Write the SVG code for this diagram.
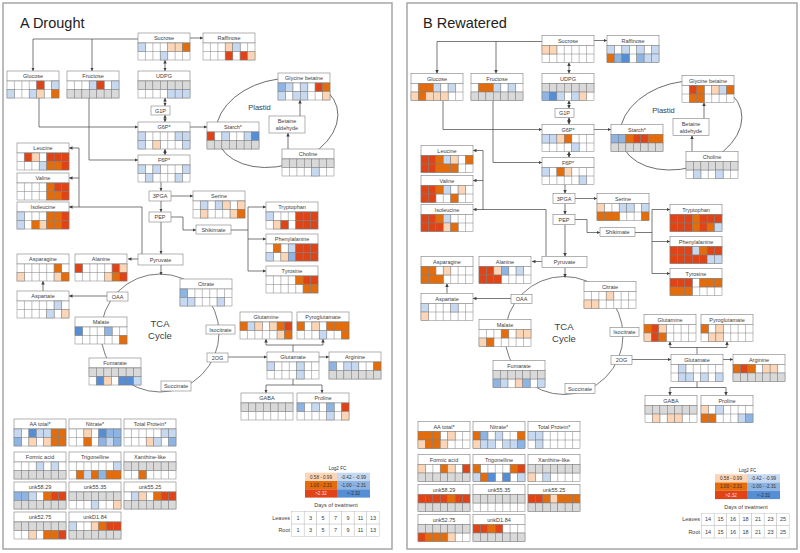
<svg xmlns="http://www.w3.org/2000/svg" xmlns:xlink="http://www.w3.org/1999/xlink" width="800" height="553" viewBox="0 0 800 553">
<defs>
<style>
text{font-family:"Liberation Sans",Arial,sans-serif;fill:#404040}
.t{font-size:5.5px;text-anchor:middle}
.tb{fill:#fff;stroke:#7f7f7f;stroke-width:.6}
.cl{stroke:#7f7f7f;stroke-width:.5}
.w{fill:#fff}.g{fill:#d9d9d9}.a{fill:#fbd5b5}.b{fill:#e46c0a}.c{fill:#df4316}.x{fill:#c6d9f1}.y{fill:#8db4e2}.z{fill:#558ed5}
.cn{fill:none;stroke:#404040;stroke-width:.7}
.ar{marker-end:url(#ah)}
.da{marker-start:url(#ah);marker-end:url(#ah)}
.frame{fill:#fff;stroke:#a6a6a6;stroke-width:1.5}
.ttl{font-size:14.5px;fill:#222}
.lg{font-size:4.6px;text-anchor:middle;fill:#333}
.tc{fill:#fff;stroke:#bfbfbf;stroke-width:.5}
</style>
<marker id="ah" viewBox="0 0 6 6" refX="6" refY="3" markerWidth="3.5" markerHeight="3.5" markerUnits="userSpaceOnUse" orient="auto-start-reverse"><path d="M0 0L6 3L0 6z" fill="#404040"/></marker>
<rect id="w" class="cl w" width="7.43" height="8.5"/>
<rect id="g" class="cl g" width="7.43" height="8.5"/>
<rect id="a" class="cl a" width="7.43" height="8.5"/>
<rect id="b" class="cl b" width="7.43" height="8.5"/>
<rect id="c" class="cl c" width="7.43" height="8.5"/>
<rect id="x" class="cl x" width="7.43" height="8.5"/>
<rect id="y" class="cl y" width="7.43" height="8.5"/>
<rect id="z" class="cl z" width="7.43" height="8.5"/>
<g id="gr"><use href="#g"/><use href="#g" x="7.43"/><use href="#g" x="14.86"/><use href="#g" x="22.29"/><use href="#g" x="29.71"/><use href="#g" x="37.14"/><use href="#g" x="44.57"/></g>
<g id="nd"><rect class="tb" width="52" height="10"/><rect class="cl w" y="10" width="52" height="17"/><path class="cl" fill="none" d="M7.43 10V27M14.86 10V27M22.29 10V27M29.71 10V27M37.14 10V27M44.57 10V27M0 18.5H52"/></g>
</defs>
<rect width="800" height="553" fill="#fff"/>
<rect class="frame" x="3" y="3" width="389" height="546"/>
<rect class="frame" x="407" y="3" width="390" height="546"/>
<text class="ttl" x="20" y="28">A Drought</text>
<text class="ttl" x="423" y="28">B Rewatered</text>

<g id="connectors-A" class="cn">
<ellipse cx="277" cy="123" rx="62" ry="43" transform="rotate(-15 277 123)"/>
<circle cx="160" cy="333" r="59"/>
<path class="ar" d="M138 39H33V71"/>
<path class="ar" d="M92 39V71"/>
<path class="ar" d="M190 38H203"/>
<path class="da" d="M165 60V71"/>
<path class="da" d="M165 98V106"/>
<path class="da" d="M165 115V122"/>
<path class="da" d="M165 149V155"/>
<path class="ar" d="M39 98V127H138"/>
<path class="ar" d="M89 98V160H138"/>
<path class="ar" d="M190 127H207"/>
<path class="ar" d="M161 182V191"/>
<path class="ar" d="M161 201V212"/>
<path class="ar" d="M161 222V254"/>
<path class="ar" d="M171 196H193"/>
<path class="ar" d="M171 217H183V230H196"/>
<path d="M231 230H248M248 207V271"/>
<path class="ar" d="M248 207H266"/>
<path class="ar" d="M248 239H266"/>
<path class="ar" d="M248 271H266"/>
<path class="ar" d="M138 259H128"/>
<path class="ar" d="M142 254V207H69"/>
<path d="M79 207V148"/>
<path class="ar" d="M79 178H69"/>
<path class="ar" d="M79 148H69"/>
<path class="ar" d="M161 265V275"/>
<path class="ar" d="M107 296H69"/>
<path class="ar" d="M43 291V281"/>
<path class="ar" d="M228 357H267"/>
<path class="ar" d="M318 357H329"/>
<path d="M293 352V345M266 345H323"/>
<path class="ar" d="M266 345V339"/>
<path class="ar" d="M323 345V339"/>
<path d="M293 379V385M266 385H322"/>
<path class="ar" d="M266 385V393"/>
<path class="ar" d="M322 385V393"/>
<path class="ar" d="M288 149V133"/>
<path class="ar" d="M300 116V100"/>
</g>
<use id="connectors-B" href="#connectors-A" x="404" y="2.5"/>

<g id="panel-A">
<text x="259.5" y="110" style="font-size:7.5px;text-anchor:middle">Plastid</text>
<text x="160" y="327" style="font-size:9.5px;text-anchor:middle">TCA</text>
<text x="160" y="339" style="font-size:9.5px;text-anchor:middle">Cycle</text>
<g id="A-g1p"><rect class="tb" x="151" y="106" width="19" height="9"/><text class="t" x="160.5" y="112.5">G1P</text></g>
<g id="A-3pga"><rect class="tb" x="149" y="191" width="22" height="10"/><text class="t" x="160" y="198">3PGA</text></g>
<g id="A-pep"><rect class="tb" x="149" y="212" width="22" height="10"/><text class="t" x="160" y="219">PEP</text></g>
<g id="A-shikimate"><rect class="tb" x="196" y="225" width="35" height="9"/><text class="t" x="213.5" y="231.5">Shikimate</text></g>
<g id="A-pyruvate"><rect class="tb" x="138" y="254" width="45" height="11"/><text class="t" x="160.5" y="261.5">Pyruvate</text></g>
<g id="A-oaa"><rect class="tb" x="107" y="292" width="21" height="9"/><text class="t" x="117.5" y="298.5">OAA</text></g>
<g id="A-isocitrate"><rect class="tb" x="206" y="325" width="29" height="9"/><text class="t" x="220.5" y="331.5">Isocitrate</text></g>
<g id="A-2og"><rect class="tb" x="207" y="353" width="21" height="9"/><text class="t" x="217.5" y="359.5">2OG</text></g>
<g id="A-succinate"><rect class="tb" x="161" y="381" width="30" height="10"/><text class="t" x="176" y="388">Succinate</text></g>
<g id="A-betaine-aldehyde"><rect class="tb" x="269" y="116" width="36" height="17"/><text class="t" x="287" y="123">Betaine</text><text class="t" x="287" y="130">aldehyde</text></g>

<g id="A-sucrose" transform="translate(138,33)"><use href="#nd"/><text class="t" x="26" y="7.3">Sucrose</text><use href="#x" y="10"/><use href="#a" x="29.71" y="10"/><use href="#a" x="37.14" y="10"/><use href="#b" x="44.57" y="10"/><use href="#x" x="22.29" y="18.5"/></g>
<g id="A-raffinose" transform="translate(203,33)"><use href="#nd"/><text class="t" x="26" y="7.3">Raffinose</text><use href="#a" x="22.29" y="10"/><use href="#x" x="29.71" y="10"/><use href="#c" x="22.29" y="18.5"/><use href="#c" x="37.14" y="18.5"/><use href="#a" x="44.57" y="18.5"/></g>
<g id="A-glucose" transform="translate(7,71)"><use href="#nd"/><text class="t" x="26" y="7.3">Glucose</text><use href="#c" x="29.71" y="10"/><use href="#x" x="44.57" y="10"/><use href="#x" y="18.5"/><use href="#x" x="22.29" y="18.5"/><use href="#a" x="29.71" y="18.5"/><use href="#b" x="44.57" y="18.5"/></g>
<g id="A-fructose" transform="translate(67,71)"><use href="#nd"/><text class="t" x="26" y="7.3">Fructose</text><use href="#x" x="22.29" y="10"/><use href="#c" x="29.71" y="10"/><use href="#x" x="44.57" y="10"/><use href="#gr" y="18.5"/></g>
<g id="A-udpg" transform="translate(138,71)"><use href="#nd"/><text class="t" x="26" y="7.3">UDPG</text><use href="#gr" y="10"/><use href="#x" x="29.71" y="18.5"/><use href="#x" x="37.14" y="18.5"/><use href="#x" x="44.57" y="18.5"/></g>
<g id="A-g6p" transform="translate(138,122)"><use href="#nd"/><text class="t" x="26" y="7.3">G6P*</text><use href="#x" y="10"/><use href="#x" x="37.14" y="10"/><use href="#x" x="44.57" y="10"/><use href="#x" y="18.5"/><use href="#a" x="14.86" y="18.5"/><use href="#x" x="44.57" y="18.5"/></g>
<g id="A-starch" transform="translate(207,122)"><use href="#nd"/><text class="t" x="26" y="7.3">Starch*</text><use href="#c" y="10"/><use href="#x" x="14.86" y="10"/><use href="#x" x="37.14" y="10"/><use href="#z" x="44.57" y="10"/><use href="#gr" y="18.5"/></g>
<g id="A-glycine-betaine" transform="translate(278,73)"><use href="#nd"/><text class="t" x="26" y="7.3">Glycine betaine</text><use href="#y" y="10"/><use href="#x" x="7.43" y="10"/><use href="#x" x="22.29" y="10"/><use href="#c" x="37.14" y="10"/><use href="#b" x="44.57" y="10"/><use href="#x" y="18.5"/><use href="#x" x="14.86" y="18.5"/><use href="#x" x="22.29" y="18.5"/><use href="#a" x="44.57" y="18.5"/></g>
<g id="A-choline" transform="translate(282,149)"><use href="#nd"/><text class="t" x="26" y="7.3">Choline</text><use href="#gr" y="10"/><use href="#x" x="29.71" y="18.5"/></g>
<g id="A-leucine" transform="translate(17,143)"><use href="#nd"/><text class="t" x="26" y="7.3">Leucine</text><use href="#c" x="7.43" y="10"/><use href="#a" x="14.86" y="10"/><use href="#c" x="29.71" y="10"/><use href="#c" x="37.14" y="10"/><use href="#c" x="44.57" y="10"/><use href="#x" x="22.29" y="18.5"/><use href="#b" x="29.71" y="18.5"/><use href="#b" x="37.14" y="18.5"/><use href="#c" x="44.57" y="18.5"/></g>
<g id="A-f6p" transform="translate(138,155)"><use href="#nd"/><text class="t" x="26" y="7.3">F6P*</text><use href="#x" y="10"/><use href="#x" x="14.86" y="10"/><use href="#x" x="44.57" y="10"/><use href="#x" x="7.43" y="18.5"/><use href="#x" x="37.14" y="18.5"/></g>
<g id="A-valine" transform="translate(17,173)"><use href="#nd"/><text class="t" x="26" y="7.3">Valine</text><use href="#b" x="29.71" y="10"/><use href="#c" x="37.14" y="10"/><use href="#c" x="44.57" y="10"/><use href="#b" x="29.71" y="18.5"/><use href="#b" x="37.14" y="18.5"/><use href="#c" x="44.57" y="18.5"/></g>
<g id="A-isoleucine" transform="translate(17,202)"><use href="#nd"/><text class="t" x="26" y="7.3">Isoleucine</text><use href="#x" y="10"/><use href="#b" x="29.71" y="10"/><use href="#b" x="37.14" y="10"/><use href="#c" x="44.57" y="10"/><use href="#x" y="18.5"/><use href="#b" x="14.86" y="18.5"/><use href="#a" x="22.29" y="18.5"/><use href="#b" x="29.71" y="18.5"/><use href="#b" x="37.14" y="18.5"/><use href="#c" x="44.57" y="18.5"/></g>
<g id="A-serine" transform="translate(193,191)"><use href="#nd"/><text class="t" x="26" y="7.3">Serine</text><use href="#x" x="7.43" y="10"/><use href="#x" x="22.29" y="10"/><use href="#a" x="29.71" y="10"/><use href="#a" x="44.57" y="10"/><use href="#a" x="7.43" y="18.5"/><use href="#a" x="37.14" y="18.5"/><use href="#b" x="44.57" y="18.5"/></g>
<g id="A-tryptophan" transform="translate(266,202)"><use href="#nd"/><text class="t" x="26" y="7.3">Tryptophan</text><use href="#x" y="10"/><use href="#c" x="29.71" y="10"/><use href="#c" x="37.14" y="10"/><use href="#c" x="44.57" y="10"/><use href="#a" x="7.43" y="18.5"/><use href="#c" x="14.86" y="18.5"/><use href="#c" x="29.71" y="18.5"/><use href="#c" x="37.14" y="18.5"/><use href="#c" x="44.57" y="18.5"/></g>
<g id="A-phenylalanine" transform="translate(266,234)"><use href="#nd"/><text class="t" x="26" y="7.3">Phenylalanine</text><use href="#b" x="7.43" y="10"/><use href="#x" x="22.29" y="10"/><use href="#c" x="29.71" y="10"/><use href="#c" x="37.14" y="10"/><use href="#c" x="44.57" y="10"/><use href="#x" y="18.5"/><use href="#a" x="14.86" y="18.5"/><use href="#y" x="22.29" y="18.5"/><use href="#c" x="29.71" y="18.5"/><use href="#c" x="37.14" y="18.5"/><use href="#c" x="44.57" y="18.5"/></g>
<g id="A-tyrosine" transform="translate(266,266)"><use href="#nd"/><text class="t" x="26" y="7.3">Tyrosine</text><use href="#b" x="29.71" y="10"/><use href="#c" x="37.14" y="10"/><use href="#c" x="44.57" y="10"/><use href="#b" x="37.14" y="18.5"/><use href="#b" x="44.57" y="18.5"/></g>
<g id="A-asparagine" transform="translate(17,254)"><use href="#nd"/><text class="t" x="26" y="7.3">Asparagine</text><use href="#b" x="37.14" y="10"/><use href="#a" y="18.5"/><use href="#a" x="37.14" y="18.5"/><use href="#b" x="44.57" y="18.5"/></g>
<g id="A-alanine" transform="translate(75,254)"><use href="#nd"/><text class="t" x="26" y="7.3">Alanine</text><use href="#c" y="10"/><use href="#c" x="37.14" y="10"/><use href="#a" x="44.57" y="10"/><use href="#a" x="29.71" y="18.5"/><use href="#b" x="37.14" y="18.5"/><use href="#c" x="44.57" y="18.5"/></g>
<g id="A-aspartate" transform="translate(17,291)"><use href="#nd"/><text class="t" x="26" y="7.3">Aspartate</text><use href="#x" x="37.14" y="10"/><use href="#x" x="29.71" y="18.5"/><use href="#a" x="44.57" y="18.5"/></g>
<g id="A-citrate" transform="translate(180,279)"><use href="#nd"/><text class="t" x="26" y="7.3">Citrate</text><use href="#y" y="10"/><use href="#x" y="18.5"/><use href="#x" x="7.43" y="18.5"/><use href="#x" x="37.14" y="18.5"/></g>
<g id="A-glutamine" transform="translate(240,312)"><use href="#nd"/><text class="t" x="26" y="7.3">Glutamine</text><use href="#b" y="10"/><use href="#x" x="7.43" y="10"/><use href="#a" x="14.86" y="10"/><use href="#a" x="29.71" y="10"/><use href="#b" x="37.14" y="10"/><use href="#c" x="44.57" y="10"/><use href="#a" x="37.14" y="18.5"/><use href="#b" x="44.57" y="18.5"/></g>
<g id="A-pyroglutamate" transform="translate(297,312)"><use href="#nd"/><text class="t" x="26" y="7.3">Pyroglutamate</text><use href="#b" y="10"/><use href="#a" x="14.86" y="10"/><use href="#b" x="29.71" y="10"/><use href="#b" x="37.14" y="10"/><use href="#b" x="44.57" y="10"/><use href="#x" x="22.29" y="18.5"/><use href="#b" x="44.57" y="18.5"/></g>
<g id="A-malate" transform="translate(75,317)"><use href="#nd"/><text class="t" x="26" y="7.3">Malate</text><use href="#z" y="10"/><use href="#y" x="29.71" y="10"/><use href="#b" x="44.57" y="18.5"/></g>
<g id="A-fumarate" transform="translate(89,358)"><use href="#nd"/><text class="t" x="26" y="7.3">Fumarate</text><use href="#gr" y="10"/><use href="#z" x="7.43" y="18.5"/><use href="#a" x="14.86" y="18.5"/><use href="#z" x="29.71" y="18.5"/><use href="#z" x="37.14" y="18.5"/><use href="#x" x="44.57" y="18.5"/></g>
<g id="A-glutamate" transform="translate(267,352)"><use href="#nd"/><text class="t" x="26" y="7.3">Glutamate</text><use href="#x" y="10"/><use href="#x" x="29.71" y="10"/><use href="#x" x="29.71" y="18.5"/></g>
<g id="A-arginine" transform="translate(329,352)"><use href="#nd"/><text class="t" x="26" y="7.3">Arginine</text><use href="#y" y="10"/><use href="#x" x="14.86" y="10"/><use href="#x" x="22.29" y="10"/><use href="#b" x="44.57" y="10"/><use href="#gr" y="18.5"/></g>
<g id="A-gaba" transform="translate(241,393)"><use href="#nd"/><text class="t" x="26" y="7.3">GABA</text><use href="#gr" y="10"/></g>
<g id="A-proline" transform="translate(297,393)"><use href="#nd"/><text class="t" x="26" y="7.3">Proline</text><use href="#y" y="10"/><use href="#x" x="14.86" y="10"/><use href="#y" x="29.71" y="10"/><use href="#c" x="44.57" y="10"/><use href="#x" x="29.71" y="18.5"/><use href="#a" x="44.57" y="18.5"/></g>
<g id="A-aa-total" transform="translate(14,419)"><use href="#nd"/><text class="t" x="26" y="7.3">AA total*</text><use href="#x" y="10"/><use href="#z" x="14.86" y="10"/><use href="#x" x="22.29" y="10"/><use href="#x" x="29.71" y="10"/><use href="#b" x="37.14" y="10"/><use href="#b" x="44.57" y="10"/><use href="#y" y="18.5"/><use href="#a" x="14.86" y="18.5"/><use href="#a" x="29.71" y="18.5"/><use href="#b" x="37.14" y="18.5"/><use href="#b" x="44.57" y="18.5"/></g>
<g id="A-nitrate" transform="translate(69,419)"><use href="#nd"/><text class="t" x="26" y="7.3">Nitrate*</text><use href="#a" x="14.86" y="10"/><use href="#z" x="29.71" y="10"/><use href="#y" x="37.14" y="10"/><use href="#y" x="44.57" y="10"/><use href="#b" x="14.86" y="18.5"/><use href="#y" x="29.71" y="18.5"/><use href="#x" x="37.14" y="18.5"/><use href="#y" x="44.57" y="18.5"/></g>
<g id="A-total-protein" transform="translate(124,419)"><use href="#nd"/><text class="t" x="26" y="7.3">Total Protein*</text><use href="#x" x="37.14" y="10"/><use href="#x" x="44.57" y="10"/><use href="#a" x="22.29" y="18.5"/><use href="#x" x="29.71" y="18.5"/><use href="#y" x="44.57" y="18.5"/></g>
<g id="A-formic-acid" transform="translate(14,452)"><use href="#nd"/><text class="t" x="26" y="7.3">Formic acid</text><use href="#x" x="22.29" y="10"/><use href="#x" x="37.14" y="10"/><use href="#gr" y="18.5"/></g>
<g id="A-trigonelline" transform="translate(69,452)"><use href="#nd"/><text class="t" x="26" y="7.3">Trigonelline</text><use href="#x" x="44.57" y="10"/><use href="#b" x="7.43" y="18.5"/><use href="#x" x="14.86" y="18.5"/><use href="#b" x="22.29" y="18.5"/><use href="#y" x="29.71" y="18.5"/><use href="#b" x="37.14" y="18.5"/><use href="#b" x="44.57" y="18.5"/></g>
<g id="A-xanthine-like" transform="translate(124,452)"><use href="#nd"/><text class="t" x="26" y="7.3">Xanthine-like</text><use href="#gr" y="10"/><use href="#b" x="14.86" y="18.5"/></g>
<g id="A-unk58-29" transform="translate(14,482)"><use href="#nd"/><text class="t" x="26" y="7.3">unk58.29</text><use href="#y" y="10"/><use href="#y" x="7.43" y="10"/><use href="#x" x="14.86" y="10"/><use href="#b" x="29.71" y="10"/><use href="#c" x="37.14" y="10"/><use href="#c" x="44.57" y="10"/><use href="#gr" y="18.5"/></g>
<g id="A-unk55-35" transform="translate(69,482)"><use href="#nd"/><text class="t" x="26" y="7.3">unk55.35</text><use href="#gr" y="10"/><use href="#x" x="22.29" y="18.5"/><use href="#a" x="44.57" y="18.5"/></g>
<g id="A-unk55-25" transform="translate(124,482)"><use href="#nd"/><text class="t" x="26" y="7.3">unk55.25</text><use href="#x" x="7.43" y="10"/><use href="#a" x="14.86" y="10"/><use href="#b" x="29.71" y="10"/><use href="#c" x="37.14" y="10"/><use href="#c" x="44.57" y="10"/><use href="#gr" y="18.5"/></g>
<g id="A-unk52-75" transform="translate(14,512)"><use href="#nd"/><text class="t" x="26" y="7.3">unk52.75</text><use href="#gr" y="10"/><use href="#a" x="14.86" y="18.5"/><use href="#b" x="29.71" y="18.5"/><use href="#b" x="37.14" y="18.5"/><use href="#c" x="44.57" y="18.5"/></g>
<g id="A-unkD1-84" transform="translate(69,512)"><use href="#nd"/><text class="t" x="26" y="7.3">unkD1.84</text><use href="#x" y="10"/><use href="#a" x="22.29" y="10"/><use href="#b" x="29.71" y="10"/><use href="#c" x="37.14" y="10"/><use href="#c" x="44.57" y="10"/><use href="#gr" y="18.5"/></g>

<g id="legend-A">
<text class="lg" x="337.5" y="470">Log2 FC</text>
<rect class="a" x="305" y="472.7" width="32" height="8.3"/><rect class="x" x="337" y="472.7" width="33" height="8.3"/>
<rect class="b" x="305" y="481" width="32" height="8.3"/><rect class="y" x="337" y="481" width="33" height="8.3"/>
<rect class="c" x="305" y="489.3" width="32" height="8.3"/><rect class="z" x="337" y="489.3" width="33" height="8.3"/>
<text class="lg" x="321" y="478.5">0.58 - 0.99</text><text class="lg" x="353.5" y="478.5">-0.42 - -0.99</text>
<text class="lg" x="321" y="486.8">1.00 - 2.31</text><text class="lg" x="353.5" y="486.8">-1.00 - -2.31</text>
<text class="lg" x="321" y="495.1" style="fill:#fde">&gt;2.32</text><text class="lg" x="353.5" y="495.1">&lt;-2.32</text>
<text x="336" y="507" style="font-size:5.5px;text-anchor:middle">Days of treatment</text>
<text x="290" y="519.5" style="font-size:5.5px;text-anchor:end">Leaves</text>
<text x="290" y="532" style="font-size:5.5px;text-anchor:end">Root</text>
<g class="tc"><rect x="291.7" y="511.7" width="12.5" height="12.4"/><rect x="304.2" y="511.7" width="12.5" height="12.4"/><rect x="316.7" y="511.7" width="12.5" height="12.4"/><rect x="329.2" y="511.7" width="12.5" height="12.4"/><rect x="341.7" y="511.7" width="12.5" height="12.4"/><rect x="354.2" y="511.7" width="12.5" height="12.4"/><rect x="366.7" y="511.7" width="12.5" height="12.4"/><rect x="291.7" y="524.1" width="12.5" height="12.4"/><rect x="304.2" y="524.1" width="12.5" height="12.4"/><rect x="316.7" y="524.1" width="12.5" height="12.4"/><rect x="329.2" y="524.1" width="12.5" height="12.4"/><rect x="341.7" y="524.1" width="12.5" height="12.4"/><rect x="354.2" y="524.1" width="12.5" height="12.4"/><rect x="366.7" y="524.1" width="12.5" height="12.4"/></g>
<g style="font-size:5.5px;text-anchor:middle"><text x="298" y="519.5">1</text><text x="310.5" y="519.5">3</text><text x="323" y="519.5">5</text><text x="335.5" y="519.5">7</text><text x="348" y="519.5">9</text><text x="360.5" y="519.5">11</text><text x="373" y="519.5">13</text><text x="298" y="532">1</text><text x="310.5" y="532">3</text><text x="323" y="532">5</text><text x="335.5" y="532">7</text><text x="348" y="532">9</text><text x="360.5" y="532">11</text><text x="373" y="532">13</text></g>
</g>
</g>

<g id="panel-B" transform="translate(404,2.5)">
<text x="259.5" y="110" style="font-size:7.5px;text-anchor:middle">Plastid</text>
<text x="160" y="327" style="font-size:9.5px;text-anchor:middle">TCA</text>
<text x="160" y="339" style="font-size:9.5px;text-anchor:middle">Cycle</text>
<g id="B-g1p"><rect class="tb" x="151" y="106" width="19" height="9"/><text class="t" x="160.5" y="112.5">G1P</text></g>
<g id="B-3pga"><rect class="tb" x="149" y="191" width="22" height="10"/><text class="t" x="160" y="198">3PGA</text></g>
<g id="B-pep"><rect class="tb" x="149" y="212" width="22" height="10"/><text class="t" x="160" y="219">PEP</text></g>
<g id="B-shikimate"><rect class="tb" x="196" y="225" width="35" height="9"/><text class="t" x="213.5" y="231.5">Shikimate</text></g>
<g id="B-pyruvate"><rect class="tb" x="138" y="254" width="45" height="11"/><text class="t" x="160.5" y="261.5">Pyruvate</text></g>
<g id="B-oaa"><rect class="tb" x="107" y="292" width="21" height="9"/><text class="t" x="117.5" y="298.5">OAA</text></g>
<g id="B-isocitrate"><rect class="tb" x="206" y="325" width="29" height="9"/><text class="t" x="220.5" y="331.5">Isocitrate</text></g>
<g id="B-2og"><rect class="tb" x="207" y="353" width="21" height="9"/><text class="t" x="217.5" y="359.5">2OG</text></g>
<g id="B-succinate"><rect class="tb" x="161" y="381" width="30" height="10"/><text class="t" x="176" y="388">Succinate</text></g>
<g id="B-betaine-aldehyde"><rect class="tb" x="269" y="116" width="36" height="17"/><text class="t" x="287" y="123">Betaine</text><text class="t" x="287" y="130">aldehyde</text></g>

<g id="B-sucrose" transform="translate(138,33)"><use href="#nd"/><text class="t" x="26" y="7.3">Sucrose</text><use href="#a" y="10"/><use href="#a" x="7.43" y="10"/></g>
<g id="B-raffinose" transform="translate(203,33)"><use href="#nd"/><text class="t" x="26" y="7.3">Raffinose</text><use href="#x" y="10"/><use href="#x" x="14.86" y="10"/><use href="#x" x="29.71" y="10"/><use href="#x" x="44.57" y="10"/><use href="#b" y="18.5"/><use href="#y" x="7.43" y="18.5"/><use href="#z" x="14.86" y="18.5"/><use href="#y" x="29.71" y="18.5"/><use href="#x" x="37.14" y="18.5"/><use href="#x" x="44.57" y="18.5"/></g>
<g id="B-glucose" transform="translate(7,71)"><use href="#nd"/><text class="t" x="26" y="7.3">Glucose</text><use href="#b" x="7.43" y="10"/><use href="#b" x="14.86" y="10"/><use href="#x" x="22.29" y="10"/><use href="#x" x="37.14" y="10"/><use href="#a" y="18.5"/><use href="#b" x="7.43" y="18.5"/><use href="#a" x="14.86" y="18.5"/><use href="#a" x="22.29" y="18.5"/><use href="#a" x="29.71" y="18.5"/></g>
<g id="B-fructose" transform="translate(67,71)"><use href="#nd"/><text class="t" x="26" y="7.3">Fructose</text><use href="#b" x="7.43" y="10"/><use href="#b" x="14.86" y="10"/><use href="#x" x="22.29" y="10"/><use href="#x" x="37.14" y="10"/><use href="#gr" y="18.5"/></g>
<g id="B-udpg" transform="translate(138,71)"><use href="#nd"/><text class="t" x="26" y="7.3">UDPG</text><use href="#gr" y="10"/><use href="#y" y="18.5"/><use href="#z" x="7.43" y="18.5"/><use href="#x" x="14.86" y="18.5"/><use href="#x" x="29.71" y="18.5"/><use href="#a" x="37.14" y="18.5"/></g>
<g id="B-g6p" transform="translate(138,122)"><use href="#nd"/><text class="t" x="26" y="7.3">G6P*</text><use href="#x" y="10"/><use href="#x" x="7.43" y="10"/><use href="#a" x="14.86" y="10"/><use href="#b" x="22.29" y="10"/><use href="#x" x="29.71" y="18.5"/></g>
<g id="B-starch" transform="translate(207,122)"><use href="#nd"/><text class="t" x="26" y="7.3">Starch*</text><use href="#y" y="10"/><use href="#y" x="7.43" y="10"/><use href="#b" x="14.86" y="10"/><use href="#c" x="22.29" y="10"/><use href="#c" x="29.71" y="10"/><use href="#b" x="37.14" y="10"/><use href="#b" x="44.57" y="10"/><use href="#gr" y="18.5"/></g>
<g id="B-glycine-betaine" transform="translate(278,73)"><use href="#nd"/><text class="t" x="26" y="7.3">Glycine betaine</text><use href="#c" x="7.43" y="10"/><use href="#b" x="14.86" y="10"/><use href="#a" x="29.71" y="10"/><use href="#x" x="37.14" y="10"/><use href="#b" x="44.57" y="10"/><use href="#b" x="7.43" y="18.5"/><use href="#b" x="14.86" y="18.5"/></g>
<g id="B-choline" transform="translate(282,149)"><use href="#nd"/><text class="t" x="26" y="7.3">Choline</text><use href="#gr" y="10"/><use href="#x" x="7.43" y="18.5"/><use href="#x" x="29.71" y="18.5"/></g>
<g id="B-leucine" transform="translate(17,143)"><use href="#nd"/><text class="t" x="26" y="7.3">Leucine</text><use href="#c" y="10"/><use href="#c" x="7.43" y="10"/><use href="#b" x="14.86" y="10"/><use href="#x" x="22.29" y="10"/><use href="#a" x="29.71" y="10"/><use href="#b" x="44.57" y="10"/><use href="#c" y="18.5"/><use href="#c" x="7.43" y="18.5"/><use href="#b" x="14.86" y="18.5"/><use href="#b" x="22.29" y="18.5"/><use href="#b" x="29.71" y="18.5"/></g>
<g id="B-f6p" transform="translate(138,155)"><use href="#nd"/><text class="t" x="26" y="7.3">F6P*</text><use href="#x" y="10"/><use href="#b" x="14.86" y="10"/><use href="#a" x="22.29" y="10"/><use href="#x" x="37.14" y="18.5"/></g>
<g id="B-valine" transform="translate(17,173)"><use href="#nd"/><text class="t" x="26" y="7.3">Valine</text><use href="#c" y="10"/><use href="#c" x="7.43" y="10"/><use href="#b" x="14.86" y="10"/><use href="#x" x="22.29" y="10"/><use href="#a" x="37.14" y="10"/><use href="#c" y="18.5"/><use href="#c" x="7.43" y="18.5"/><use href="#b" x="29.71" y="18.5"/></g>
<g id="B-isoleucine" transform="translate(17,202)"><use href="#nd"/><text class="t" x="26" y="7.3">Isoleucine</text><use href="#c" y="10"/><use href="#c" x="7.43" y="10"/><use href="#b" x="14.86" y="10"/><use href="#x" x="22.29" y="10"/><use href="#c" y="18.5"/><use href="#c" x="7.43" y="18.5"/><use href="#c" x="14.86" y="18.5"/><use href="#a" x="22.29" y="18.5"/><use href="#b" x="29.71" y="18.5"/></g>
<g id="B-serine" transform="translate(193,191)"><use href="#nd"/><text class="t" x="26" y="7.3">Serine</text><use href="#a" y="10"/><use href="#x" x="22.29" y="10"/><use href="#x" x="29.71" y="10"/><use href="#x" x="44.57" y="10"/><use href="#b" y="18.5"/><use href="#b" x="7.43" y="18.5"/><use href="#b" x="14.86" y="18.5"/><use href="#b" x="44.57" y="18.5"/></g>
<g id="B-tryptophan" transform="translate(266,202)"><use href="#nd"/><text class="t" x="26" y="7.3">Tryptophan</text><use href="#c" y="10"/><use href="#c" x="7.43" y="10"/><use href="#c" x="14.86" y="10"/><use href="#b" x="22.29" y="10"/><use href="#c" x="29.71" y="10"/><use href="#c" x="37.14" y="10"/><use href="#c" x="44.57" y="10"/><use href="#c" y="18.5"/><use href="#c" x="7.43" y="18.5"/><use href="#c" x="14.86" y="18.5"/><use href="#b" x="22.29" y="18.5"/><use href="#c" x="29.71" y="18.5"/><use href="#b" x="37.14" y="18.5"/><use href="#x" x="44.57" y="18.5"/></g>
<g id="B-phenylalanine" transform="translate(266,234)"><use href="#nd"/><text class="t" x="26" y="7.3">Phenylalanine</text><use href="#c" y="10"/><use href="#c" x="7.43" y="10"/><use href="#c" x="14.86" y="10"/><use href="#x" x="22.29" y="10"/><use href="#b" x="29.71" y="10"/><use href="#c" x="37.14" y="10"/><use href="#c" x="44.57" y="10"/><use href="#c" y="18.5"/><use href="#c" x="7.43" y="18.5"/><use href="#c" x="14.86" y="18.5"/><use href="#c" x="22.29" y="18.5"/><use href="#c" x="29.71" y="18.5"/><use href="#x" x="37.14" y="18.5"/><use href="#x" x="44.57" y="18.5"/></g>
<g id="B-tyrosine" transform="translate(266,266)"><use href="#nd"/><text class="t" x="26" y="7.3">Tyrosine</text><use href="#c" y="10"/><use href="#c" x="7.43" y="10"/><use href="#c" x="14.86" y="10"/><use href="#b" x="29.71" y="10"/><use href="#b" x="37.14" y="10"/><use href="#b" x="44.57" y="10"/><use href="#b" y="18.5"/><use href="#b" x="7.43" y="18.5"/><use href="#b" x="14.86" y="18.5"/></g>
<g id="B-asparagine" transform="translate(17,254)"><use href="#nd"/><text class="t" x="26" y="7.3">Asparagine</text><use href="#b" y="10"/><use href="#b" x="7.43" y="10"/><use href="#a" x="22.29" y="10"/><use href="#b" y="18.5"/><use href="#b" x="7.43" y="18.5"/><use href="#b" x="14.86" y="18.5"/></g>
<g id="B-alanine" transform="translate(75,254)"><use href="#nd"/><text class="t" x="26" y="7.3">Alanine</text><use href="#c" y="10"/><use href="#c" x="7.43" y="10"/><use href="#a" x="14.86" y="10"/><use href="#y" x="22.29" y="10"/><use href="#x" x="37.14" y="10"/><use href="#c" y="18.5"/><use href="#c" x="7.43" y="18.5"/><use href="#c" x="14.86" y="18.5"/></g>
<g id="B-aspartate" transform="translate(17,291)"><use href="#nd"/><text class="t" x="26" y="7.3">Aspartate</text><use href="#x" y="10"/><use href="#x" x="29.71" y="10"/><use href="#a" y="18.5"/></g>
<g id="B-citrate" transform="translate(180,279)"><use href="#nd"/><text class="t" x="26" y="7.3">Citrate</text><use href="#a" x="22.29" y="10"/><use href="#a" y="18.5"/><use href="#a" x="7.43" y="18.5"/></g>
<g id="B-glutamine" transform="translate(240,312)"><use href="#nd"/><text class="t" x="26" y="7.3">Glutamine</text><use href="#b" y="10"/><use href="#c" x="7.43" y="10"/><use href="#a" x="14.86" y="10"/><use href="#a" y="18.5"/><use href="#c" x="7.43" y="18.5"/><use href="#b" x="14.86" y="18.5"/></g>
<g id="B-pyroglutamate" transform="translate(297,312)"><use href="#nd"/><text class="t" x="26" y="7.3">Pyroglutamate</text><use href="#b" y="10"/><use href="#a" x="14.86" y="10"/><use href="#a" x="7.43" y="18.5"/><use href="#a" x="14.86" y="18.5"/></g>
<g id="B-malate" transform="translate(75,317)"><use href="#nd"/><text class="t" x="26" y="7.3">Malate</text><use href="#b" x="22.29" y="10"/><use href="#a" x="37.14" y="10"/><use href="#a" x="44.57" y="10"/><use href="#a" y="18.5"/><use href="#b" x="7.43" y="18.5"/></g>
<g id="B-fumarate" transform="translate(89,358)"><use href="#nd"/><text class="t" x="26" y="7.3">Fumarate</text><use href="#gr" y="10"/><use href="#y" y="18.5"/><use href="#x" x="7.43" y="18.5"/><use href="#a" x="22.29" y="18.5"/><use href="#y" x="29.71" y="18.5"/><use href="#x" x="44.57" y="18.5"/></g>
<g id="B-glutamate" transform="translate(267,352)"><use href="#nd"/><text class="t" x="26" y="7.3">Glutamate</text><use href="#x" x="7.43" y="10"/><use href="#x" x="7.43" y="18.5"/><use href="#x" x="14.86" y="18.5"/><use href="#x" x="29.71" y="18.5"/><use href="#x" x="44.57" y="18.5"/></g>
<g id="B-arginine" transform="translate(329,352)"><use href="#nd"/><text class="t" x="26" y="7.3">Arginine</text><use href="#b" y="10"/><use href="#c" x="7.43" y="10"/><use href="#b" x="14.86" y="10"/><use href="#a" x="29.71" y="10"/><use href="#a" x="37.14" y="10"/><use href="#gr" y="18.5"/></g>
<g id="B-gaba" transform="translate(241,393)"><use href="#nd"/><text class="t" x="26" y="7.3">GABA</text><use href="#gr" y="10"/><use href="#a" x="7.43" y="18.5"/><use href="#a" x="22.29" y="18.5"/><use href="#a" x="29.71" y="18.5"/></g>
<g id="B-proline" transform="translate(297,393)"><use href="#nd"/><text class="t" x="26" y="7.3">Proline</text><use href="#a" y="10"/><use href="#x" x="14.86" y="10"/><use href="#b" y="18.5"/><use href="#b" x="7.43" y="18.5"/><use href="#x" x="37.14" y="18.5"/><use href="#y" x="44.57" y="18.5"/></g>
<g id="B-aa-total" transform="translate(14,419)"><use href="#nd"/><text class="t" x="26" y="7.3">AA total*</text><use href="#b" y="10"/><use href="#b" x="7.43" y="10"/><use href="#b" x="14.86" y="10"/><use href="#a" x="29.71" y="10"/><use href="#a" y="18.5"/><use href="#b" x="7.43" y="18.5"/><use href="#b" x="14.86" y="18.5"/><use href="#a" x="22.29" y="18.5"/></g>
<g id="B-nitrate" transform="translate(69,419)"><use href="#nd"/><text class="t" x="26" y="7.3">Nitrate*</text><use href="#b" y="10"/><use href="#y" x="7.43" y="10"/><use href="#x" x="22.29" y="10"/><use href="#b" x="44.57" y="10"/><use href="#a" y="18.5"/><use href="#x" x="7.43" y="18.5"/><use href="#x" x="14.86" y="18.5"/><use href="#x" x="29.71" y="18.5"/><use href="#x" x="37.14" y="18.5"/><use href="#y" x="44.57" y="18.5"/></g>
<g id="B-total-protein" transform="translate(124,419)"><use href="#nd"/><text class="t" x="26" y="7.3">Total Protein*</text><use href="#x" y="10"/><use href="#x" x="7.43" y="10"/><use href="#x" x="7.43" y="18.5"/></g>
<g id="B-formic-acid" transform="translate(14,452)"><use href="#nd"/><text class="t" x="26" y="7.3">Formic acid</text><use href="#a" y="10"/><use href="#b" x="22.29" y="10"/><use href="#a" x="29.71" y="10"/><use href="#c" x="44.57" y="10"/><use href="#gr" y="18.5"/></g>
<g id="B-trigonelline" transform="translate(69,452)"><use href="#nd"/><text class="t" x="26" y="7.3">Trigonelline</text><use href="#b" y="10"/><use href="#b" x="37.14" y="10"/><use href="#c" x="44.57" y="10"/><use href="#x" y="18.5"/><use href="#b" x="7.43" y="18.5"/><use href="#z" x="14.86" y="18.5"/><use href="#z" x="29.71" y="18.5"/><use href="#x" x="44.57" y="18.5"/></g>
<g id="B-xanthine-like" transform="translate(124,452)"><use href="#nd"/><text class="t" x="26" y="7.3">Xanthine-like</text><use href="#gr" y="10"/><use href="#a" y="18.5"/><use href="#x" x="14.86" y="18.5"/></g>
<g id="B-unk58-29" transform="translate(14,482)"><use href="#nd"/><text class="t" x="26" y="7.3">unk58.29</text><use href="#c" y="10"/><use href="#c" x="7.43" y="10"/><use href="#c" x="14.86" y="10"/><use href="#c" x="22.29" y="10"/><use href="#b" x="29.71" y="10"/><use href="#c" x="37.14" y="10"/><use href="#c" x="44.57" y="10"/><use href="#gr" y="18.5"/></g>
<g id="B-unk55-35" transform="translate(69,482)"><use href="#nd"/><text class="t" x="26" y="7.3">unk55.35</text><use href="#gr" y="10"/></g>
<g id="B-unk55-25" transform="translate(124,482)"><use href="#nd"/><text class="t" x="26" y="7.3">unk55.25</text><use href="#c" y="10"/><use href="#c" x="7.43" y="10"/><use href="#b" x="14.86" y="10"/><use href="#a" x="22.29" y="10"/><use href="#b" x="29.71" y="10"/><use href="#b" x="37.14" y="10"/><use href="#b" x="44.57" y="10"/><use href="#gr" y="18.5"/></g>
<g id="B-unk52-75" transform="translate(14,512)"><use href="#nd"/><text class="t" x="26" y="7.3">unk52.75</text><use href="#gr" y="10"/><use href="#c" y="18.5"/><use href="#b" x="7.43" y="18.5"/><use href="#b" x="14.86" y="18.5"/><use href="#b" x="22.29" y="18.5"/><use href="#a" x="29.71" y="18.5"/></g>
<g id="B-unkD1-84" transform="translate(69,512)"><use href="#nd"/><text class="t" x="26" y="7.3">unkD1.84</text><use href="#c" y="10"/><use href="#c" x="7.43" y="10"/><use href="#b" x="14.86" y="10"/><use href="#c" x="22.29" y="10"/><use href="#gr" y="18.5"/></g>
</g>

<g id="legend-B" transform="translate(410,1.5)">
<text class="lg" x="337.5" y="470">Log2 FC</text>
<rect class="a" x="305" y="472.7" width="32" height="8.3"/><rect class="x" x="337" y="472.7" width="33" height="8.3"/>
<rect class="b" x="305" y="481" width="32" height="8.3"/><rect class="y" x="337" y="481" width="33" height="8.3"/>
<rect class="c" x="305" y="489.3" width="32" height="8.3"/><rect class="z" x="337" y="489.3" width="33" height="8.3"/>
<text class="lg" x="321" y="478.5">0.58 - 0.99</text><text class="lg" x="353.5" y="478.5">-0.42 - -0.99</text>
<text class="lg" x="321" y="486.8">1.00 - 2.31</text><text class="lg" x="353.5" y="486.8">-1.00 - -2.31</text>
<text class="lg" x="321" y="495.1" style="fill:#fde">&gt;2.32</text><text class="lg" x="353.5" y="495.1">&lt;-2.32</text>
<text x="336" y="507" style="font-size:5.5px;text-anchor:middle">Days of treatment</text>
<text x="290" y="519.5" style="font-size:5.5px;text-anchor:end">Leaves</text>
<text x="290" y="532" style="font-size:5.5px;text-anchor:end">Root</text>
<g class="tc"><rect x="291.7" y="511.7" width="12.5" height="12.4"/><rect x="304.2" y="511.7" width="12.5" height="12.4"/><rect x="316.7" y="511.7" width="12.5" height="12.4"/><rect x="329.2" y="511.7" width="12.5" height="12.4"/><rect x="341.7" y="511.7" width="12.5" height="12.4"/><rect x="354.2" y="511.7" width="12.5" height="12.4"/><rect x="366.7" y="511.7" width="12.5" height="12.4"/><rect x="291.7" y="524.1" width="12.5" height="12.4"/><rect x="304.2" y="524.1" width="12.5" height="12.4"/><rect x="316.7" y="524.1" width="12.5" height="12.4"/><rect x="329.2" y="524.1" width="12.5" height="12.4"/><rect x="341.7" y="524.1" width="12.5" height="12.4"/><rect x="354.2" y="524.1" width="12.5" height="12.4"/><rect x="366.7" y="524.1" width="12.5" height="12.4"/></g>
<g style="font-size:5.5px;text-anchor:middle"><text x="298" y="519.5">14</text><text x="310.5" y="519.5">15</text><text x="323" y="519.5">16</text><text x="335.5" y="519.5">18</text><text x="348" y="519.5">21</text><text x="360.5" y="519.5">23</text><text x="373" y="519.5">25</text><text x="298" y="532">14</text><text x="310.5" y="532">15</text><text x="323" y="532">16</text><text x="335.5" y="532">18</text><text x="348" y="532">21</text><text x="360.5" y="532">23</text><text x="373" y="532">25</text></g>
</g>
</svg>
